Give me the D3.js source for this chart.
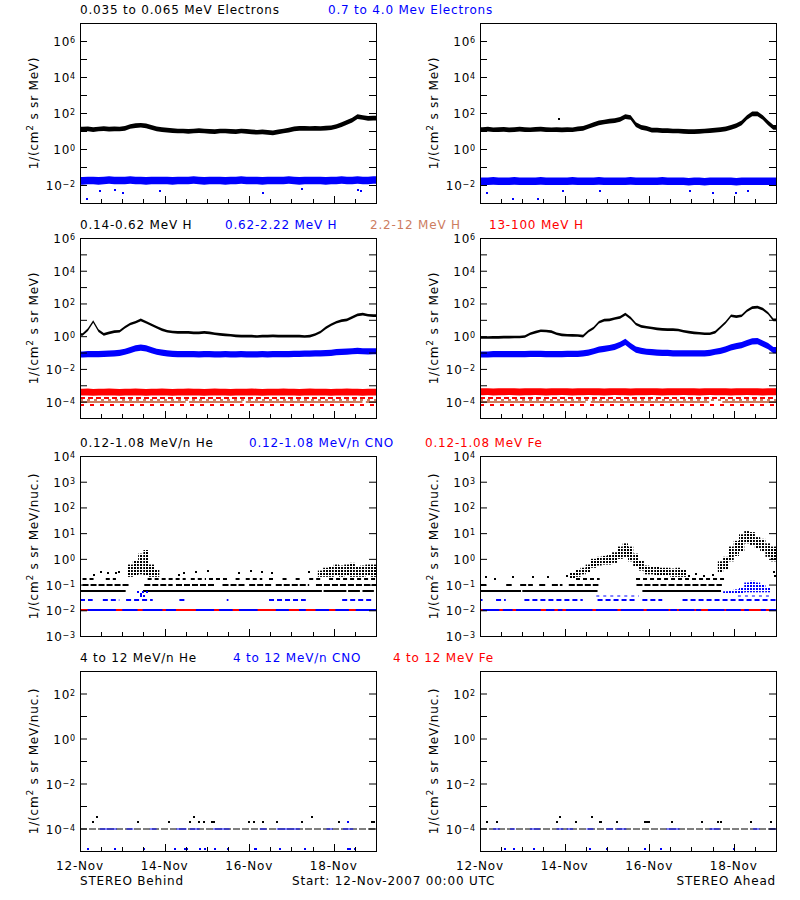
<!DOCTYPE html>
<html><head><meta charset="utf-8">
<script src="https://cdn.jsdelivr.net/npm/d3@7"></script>
<style>
body{margin:0;background:#fff;}
text{font-family:"DejaVu Sans",sans-serif;font-size:12px;letter-spacing:0.8px;}
</style></head><body>
<svg id="chart" width="800" height="900" xmlns="http://www.w3.org/2000/svg"></svg>
<script>
// ======================= DATA =======================
const startDate = "2007-11-12T00:00:00Z";
const endDate = "2007-11-19T00:00:00Z";
const binHours = 3;                       // series below are 3-hour bins (56 per week)
const dateTickDays = [0, 2, 4, 6];        // labelled ticks: 12-Nov, 14-Nov, 16-Nov, 18-Nov
const footerTexts = ["STEREO Behind", "Start: 12-Nov-2007 00:00 UTC", "STEREO Ahead"];

const titlesRow1 = ["0.035 to 0.065 MeV Electrons", "0.7 to 4.0 Mev Electrons"];
const titlesRow2 = ["0.14-0.62 MeV H", "0.62-2.22 MeV H", "2.2-12 MeV H", "13-100 MeV H"];
const titlesRow3 = ["0.12-1.08 MeV/n He", "0.12-1.08 MeV/n CNO", "0.12-1.08 MeV Fe"];
const titlesRow4 = ["4 to 12 MeV/n He", "4 to 12 MeV/n CNO", "4 to 12 MeV Fe"];
const yTitles = ["MeV)", "MeV)", "MeV/nuc.)", "MeV/nuc.)"];

const yDomainLo = [1e-3, 1e-5, 1e-3, 1e-5];
const yDomainHi = [1e7, 1e6, 1e4, 1e3];
const yLabelExpRow1 = [-2, 0, 2, 4, 6];
const yLabelExpRow2 = [-4, -2, 0, 2, 4, 6];
const yLabelExpRow3 = [-3, -2, -1, 0, 1, 2, 3, 4];
const yLabelExpRow4 = [-4, -2, 0, 2];

// --- Electrons (3h bins) ---
const electronLoBehind = [12.6,13.2,12.0,12.9,13.5,12.6,13.2,12.9,
 14.1,17.8,20.0,20.9,19.1,15.8,13.2,12.0,
 11.2,10.5,10.0,10.0,9.5,10.0,10.5,10.0,
 9.5,9.3,10.0,10.0,9.5,9.3,10.0,9.5,
 8.9,8.5,8.9,8.3,7.9,8.9,10.0,11.2,
 13.2,14.1,14.1,13.8,14.1,13.8,14.5,15.1,
 17.8,22.4,30.2,39.8,63.0,56.0,50.0,52.0];
const electronHiBehind = [0.017,0.018,0.018,0.017,0.018,0.019,0.018,0.018,
 0.018,0.019,0.018,0.018,0.017,0.018,0.018,0.018,
 0.018,0.017,0.018,0.018,0.018,0.019,0.018,0.017,
 0.018,0.018,0.018,0.017,0.018,0.018,0.019,0.018,
 0.018,0.018,0.017,0.018,0.018,0.018,0.018,0.019,
 0.018,0.017,0.018,0.018,0.018,0.018,0.017,0.018,
 0.018,0.019,0.018,0.018,0.019,0.018,0.018,0.019];
const electronHiBehindOutliers = [[0.17,0.0016],[0.47,0.0049],[0.83,0.0052],[1.02,0.0035],[1.89,0.0049],[4.33,0.0035],[5.24,0.006],[6.57,0.0052],[6.65,0.0045]];
const electronLoAhead = [12.0,12.6,11.7,12.0,12.3,11.5,12.0,12.6,
 12.0,11.7,12.3,12.6,12.0,11.7,12.0,11.5,
 12.0,11.7,13.2,14.1,17.8,22.4,28.2,31.6,
 35.5,38.0,44.7,63.0,56.0,22.4,15.8,14.1,
 11.2,11.2,10.5,10.5,10.0,10.0,9.5,9.3,
 9.3,9.5,10.0,10.5,11.2,12.0,13.2,15.8,
 20.0,28.2,56.0,89.0,89.0,56.0,28.2,15.8];
const electronLoAheadOutliers = [[1.87,46]];
const electronHiAhead = [0.016,0.016,0.017,0.016,0.016,0.016,0.017,0.016,
 0.016,0.016,0.016,0.017,0.016,0.016,0.016,0.016,
 0.016,0.017,0.016,0.016,0.016,0.016,0.017,0.016,
 0.016,0.016,0.016,0.016,0.017,0.016,0.016,0.016,
 0.016,0.016,0.017,0.016,0.016,0.016,0.016,0.015,
 0.016,0.016,0.015,0.016,0.016,0.016,0.016,0.016,
 0.015,0.016,0.016,0.016,0.016,0.016,0.016,0.016];
const electronHiAheadOutliers = [[0.17,0.0035],[0.79,0.0016],[1.38,0.0016],[1.97,0.0047],[2.83,0.0045],[4.96,0.0047],[5.51,0.0035],[6.06,0.0035],[6.34,0.0045]];

// --- Protons (3h bins) ---
const protonLoBehind = [1.26,2.5,7.9,2.2,1.3,1.6,1.9,2.0,
 3.5,5.6,7.1,10.0,7.1,5.0,3.5,2.5,
 2.0,1.8,1.7,1.7,1.7,1.6,1.6,1.7,
 1.6,1.4,1.3,1.2,1.15,1.05,1.0,1.0,
 1.0,0.95,1.0,1.0,1.05,1.0,1.0,1.0,
 1.0,1.0,0.95,1.0,1.26,1.8,3.2,5.0,
 7.1,8.9,10.0,14.0,20.0,22.4,19.0,18.0];
const protonMidBehind = [0.076,0.079,0.079,0.079,0.083,0.085,0.089,0.095,
 0.112,0.141,0.178,0.2,0.178,0.141,0.112,0.1,
 0.089,0.083,0.08,0.08,0.079,0.08,0.078,0.08,
 0.079,0.077,0.078,0.08,0.077,0.078,0.079,0.077,
 0.078,0.077,0.079,0.078,0.08,0.079,0.08,0.081,
 0.082,0.083,0.085,0.086,0.088,0.09,0.092,0.095,
 0.105,0.11,0.115,0.12,0.125,0.12,0.118,0.12];
const protonHiBehind = [0.00038,0.00039,0.00037,0.00038,0.00038,0.00039,0.00038,0.00037,
 0.00038,0.00038,0.00039,0.00038,0.00037,0.00038,0.00038,0.00039,
 0.00038,0.00037,0.00038,0.00038,0.00039,0.00038,0.00038,0.00037,
 0.00038,0.00039,0.00038,0.00038,0.00037,0.00038,0.00038,0.00038,
 0.00039,0.00038,0.00037,0.00038,0.00038,0.00038,0.00039,0.00038,
 0.00038,0.00037,0.00038,0.00039,0.00038,0.00038,0.00038,0.00037,
 0.00038,0.00038,0.00039,0.00038,0.00038,0.00037,0.00038,0.00038];
const protonLoAhead = [0.83,0.83,0.85,0.85,0.87,0.87,0.89,0.89,
 0.95,1.41,1.78,2.14,2.09,1.9,1.41,1.2,
 1.15,1.12,1.1,1.0,2.0,3.16,7.1,9.5,
 10.0,12.0,14.1,22.4,12.6,5.6,4.0,3.5,
 3.16,2.8,2.6,2.5,2.5,2.4,2.0,1.78,
 1.6,1.5,1.41,1.41,1.78,3.5,7.1,17.8,
 15.8,17.8,35.5,56.0,60.0,45.0,25.0,10.0];
const protonMidAhead = [0.076,0.076,0.079,0.079,0.079,0.079,0.079,0.079,
 0.079,0.083,0.083,0.083,0.079,0.079,0.079,0.079,
 0.083,0.083,0.083,0.089,0.1,0.12,0.15,0.17,
 0.19,0.22,0.3,0.45,0.25,0.15,0.126,0.112,
 0.105,0.1,0.095,0.095,0.089,0.089,0.089,0.089,
 0.089,0.089,0.089,0.095,0.112,0.126,0.158,0.21,
 0.25,0.28,0.38,0.48,0.5,0.355,0.25,0.141];
const protonHiAhead = [0.0004,0.00041,0.00039,0.0004,0.0004,0.00041,0.0004,0.00039,
 0.0004,0.0004,0.00041,0.0004,0.00039,0.0004,0.0004,0.00041,
 0.0004,0.00039,0.0004,0.0004,0.00041,0.0004,0.0004,0.00039,
 0.0004,0.00041,0.0004,0.0004,0.00039,0.0004,0.0004,0.0004,
 0.00041,0.0004,0.00039,0.0004,0.0004,0.0004,0.00041,0.0004,
 0.0004,0.00039,0.0004,0.00041,0.0004,0.0004,0.0004,0.00039,
 0.0004,0.0004,0.00041,0.0004,0.0004,0.00039,0.0004,0.0004];
// quantized count rows of the 2.2-12 MeV and 13-100 MeV channels
const protonHiRowLevels = [1.75e-4, 6e-5];
const protonMidHiRowLevel = 1.35e-4;
const protonMidHiLevel = 8.9e-5;
const protonMidHiBehindSegs = [[0,2.5],[2.58,3.84],[3.92,6.68],[6.76,7]];
const protonMidHiAheadSegs = [[0,2.5],[2.62,5.42],[5.73,7]];

// --- Low-energy heavy ions: quantized count levels ---
const heLevels = [0.058, 0.1, 0.165];
const heBehindL1 = [[0,1.08],[1.49,5.72],[5.76,6.3],[6.34,6.62],[6.68,6.95]];
const heBehindL2 = [[0.06,1.17],[1.52,2.19],[2.27,3.21],[3.37,3.92],[4.0,4.55],[4.63,5.42],[5.58,7]];
const heBehindL3 = [[0.06,0.38],[0.61,0.85],[1.6,2.5],[2.62,2.98],[3.05,3.52],[3.68,3.84],[3.92,4.31],[4.47,4.63],[4.79,4.94],[5.1,5.26],[5.42,5.73],[5.89,7]];
const heBehindPoints = [[0.34,0.24],[0.5,0.3],[0.66,0.27],[0.85,0.27],[0.93,0.3],[2.35,0.24],[2.47,0.27],[2.74,0.3],[3.02,0.33],[3.77,0.27],[4.04,0.33],[4.31,0.3],[4.55,0.27],[5.42,0.3]];
// cloud bins: [startDay, low, high]
const heBehindCloud = [[1.125,0.2,0.6],[1.25,0.22,0.9],[1.375,0.25,1.6],[1.5,0.22,2.2],[1.625,0.2,0.6],[1.75,0.2,0.4],
 [5.625,0.2,0.35],[5.75,0.2,0.45],[5.875,0.2,0.5],[6.0,0.22,0.6],[6.125,0.2,0.55],[6.25,0.22,0.6],[6.375,0.2,0.7],[6.5,0.2,0.5],[6.625,0.2,0.55],[6.75,0.22,0.6],[6.875,0.2,0.6]];
const heAheadL1 = [[0,0.97],[1.0,2.78],[3.84,5.7]];
const heAheadL2 = [[0,0.15],[0.62,0.75],[0.95,1.25],[1.4,1.55],[1.7,1.95],[2.1,2.8],[3.7,5.72]];
const heAheadL3 = [[2.27,2.83],[3.69,5.8]];
const heAheadPoints = [[0.14,0.2],[0.35,0.17],[0.77,0.2],[1.25,0.2],[1.6,0.19],[2.05,0.22],[4.95,0.22],[5.1,0.25],[5.3,0.22],[5.5,0.24],[6.95,0.3],[6.97,0.22]];
const heAheadCloud = [[2.125,0.18,0.3],[2.25,0.2,0.4],[2.375,0.25,0.45],[2.5,0.3,0.6],[2.625,0.45,1.0],[2.75,0.55,1.2],[2.875,0.6,1.3],[3.0,0.6,1.4],[3.125,0.7,1.8],[3.25,1.0,3.0],[3.375,1.2,4.0],[3.5,0.8,3.0],[3.625,0.5,1.6],[3.75,0.35,0.9],[3.875,0.25,0.55],[4.0,0.25,0.5],[4.125,0.22,0.5],[4.25,0.22,0.45],[4.375,0.22,0.45],[4.5,0.2,0.42],[4.625,0.2,0.45],[4.75,0.2,0.4],
 [5.625,0.3,0.8],[5.75,0.4,1.2],[5.875,0.8,3],[6.0,1.3,5],[6.125,2,9],[6.25,4,12],[6.375,3.5,11],[6.5,2.5,7],[6.625,2,6],[6.75,1.2,4],[6.875,0.8,3]];

const cnoLevels = [0.026, 0.037];
const floorLevel = 0.0105;
const cnoBehindL1 = [[0,0.3],[0.54,0.93],[1.09,1.72],[2.35,2.5],[3.47,3.51],[4.47,5.34],[6.2,6.91]];
const cnoBehindPoints = [[1.38,0.05],[1.45,0.042],[1.5,0.05],[1.58,0.05],[1.45,0.036],[1.52,0.036]];
const cnoAheadL1 = [[0,0.06],[0.38,0.61],[1.05,2.43],[2.78,3.69],[3.84,4.31],[4.79,7]];
const cnoAheadL2 = [[2.75,3.76],[6.1,6.9]];
const cnoAheadCloud = [[5.75,0.045,0.055],[5.875,0.045,0.06],[6.0,0.045,0.065],[6.125,0.045,0.08],[6.25,0.05,0.12],[6.375,0.05,0.14],[6.5,0.05,0.12],[6.625,0.05,0.1],[6.75,0.05,0.08]];
const feBehindFloor = [[0,0.18],[0.85,1.0],[1.36,1.48],[1.95,2.03],[2.27,2.74],[3.17,3.29],[3.61,3.76],[4.2,4.63],[4.94,5.18],[5.34,5.57],[5.89,6.04],[6.36,6.52]];
const feAheadFloor = [[0,0.06],[0.46,0.54],[0.77,0.85],[1.44,1.56],[1.76,1.84],[1.95,2.03],[2.66,2.74],[3.25,3.33],[3.87,3.94],[4.46,4.5],[4.66,4.7],[5.07,5.11],[5.23,5.39],[5.78,5.82],[6.17,6.25],[6.36,6.64],[6.76,6.84]];

// --- 4-12 MeV/n ions ---
const hiFloorLevel = 1e-4;
const he4BehindPoints = [[0.3,2e-4],[0.4,3.1e-4],[1.36,2e-4],[2.1,2e-4],[2.6,2e-4],[2.7,3.1e-4],[2.81,2e-4],[2.93,2e-4],[3.13,2e-4],[3.17,2e-4],[4.0,2e-4],[4.11,2e-4],[4.32,2e-4],[4.65,2e-4],[5.24,2e-4],[5.49,3.1e-4],[6.13,2e-4],[6.9,2e-4],[6.95,2e-4]];
const cno4BehindHigh = [[6.34,2e-4]];
const cno4BehindLow = [[0.2,1.2e-5],[0.83,1.2e-5],[1.51,1.2e-5],[2.24,1.2e-5],[2.48,1.2e-5],[2.52,1.2e-5],[2.83,1.2e-5],[2.95,1.2e-5],[3.19,1.2e-5],[3.5,1.2e-5],[4.13,1.2e-5],[4.17,1.2e-5],[4.72,1.2e-5],[5.32,1.2e-5],[6.34,1.2e-5],[6.38,1.2e-5],[6.5,1.2e-5]];
const cno4BehindFloor = [[0.47,0.87],[1.1,1.26],[1.65,1.81],[2.28,2.52],[2.6,2.83],[3.15,3.54],[4.25,4.41],[4.65,5.2],[5.83,5.98],[6.22,6.46]];
const he4AheadPoints = [[0.17,2e-4],[0.41,2e-4],[1.81,2e-4],[1.9,3.1e-4],[2.28,2e-4],[2.64,3.1e-4],[2.83,2e-4],[2.87,2e-4],[3.23,2e-4],[3.9,2e-4],[3.95,2e-4],[4.0,2e-4],[4.55,2e-4],[5.25,2e-4],[5.63,2e-4],[5.7,2e-4],[6.4,2e-4],[6.87,2e-4]];
const cno4AheadLow = [[0.59,1.2e-5],[0.8,1.2e-5],[1.28,1.2e-5],[2.61,1.2e-5],[3.0,1.2e-5],[3.9,1.2e-5],[4.29,1.2e-5],[6.01,1.2e-5]];
const cno4AheadFloor = [[0.31,0.47],[0.71,0.83],[1.18,1.42],[1.81,1.97],[2.05,2.2],[2.52,2.68],[2.99,3.15],[3.23,3.46],[4.41,4.72],[5.43,5.67],[6.46,6.61],[6.85,7]];

const spreadElectronLo = 0.13, spreadElectronHi = 0.21, spreadProtonLo = 0.08, spreadProtonMid = 0.19, spreadProtonHi = 0.21;

// ======================= LAYOUT / STYLE =======================
const PX = [80, 480], PY = [23, 238, 456, 671], PW = 296, PH = 180;
const BLACK = "#000", BLUE = "#0000ff", RED = "#ff0000", SALMON = "rgb(205,125,95)";
const titleX = [[80, 328], [80, 225, 370, 489], [80, 249, 425], [80, 233, 393]];
const titleColors = [[BLACK, BLUE], [BLACK, BLUE, SALMON, RED], [BLACK, BLUE, RED], [BLACK, BLUE, RED]];
const titles = [titlesRow1, titlesRow2, titlesRow3, titlesRow4];
const yLabelExps = [yLabelExpRow1, yLabelExpRow2, yLabelExpRow3, yLabelExpRow4];

const svg = d3.select("#chart");
svg.append("rect").attr("width", 800).attr("height", 900).attr("fill", "#fff");
const defs = svg.append("defs");
function makePattern(id, color) {
  const p = defs.append("pattern").attr("id", id).attr("width", 3).attr("height", 3).attr("patternUnits", "userSpaceOnUse");
  p.append("rect").attr("width", 2).attr("height", 2).attr("fill", color);
}
makePattern("dotK", BLACK); makePattern("dotB", BLUE);

const t0 = new Date(startDate), t1 = new Date(endDate);
const DAYMS = 86400000, BINMS = binHours * 3600000;
const dayT = d => new Date(+t0 + d * DAYMS);
const binT = i => new Date(+t0 + (i + 0.5) * BINMS);

function makePanel(col, row) {
  const g = svg.append("g").attr("transform", `translate(${PX[col]},${PY[row]})`);
  const x = d3.scaleUtc().domain([t0, t1]).range([0, PW]);
  const y = d3.scaleLog().domain([yDomainLo[row], yDomainHi[row]]).range([PH, 0]);
  const id = `clip${col}${row}`;
  defs.append("clipPath").attr("id", id).append("rect").attr("width", PW).attr("height", PH);
  const data = g.append("g").attr("clip-path", `url(#${id})`);
  return { g, data, x, y, col, row };
}

function band(p, mids, spread, color) {
  const f = Math.pow(10, spread);
  const pts = mids.map((v, i) => [binT(i), v]);
  pts.unshift([t0, mids[0]]); pts.push([t1, mids[mids.length - 1]]);
  const area = d3.area().x(d => p.x(d[0])).y0(d => p.y(d[1] / f)).y1(d => p.y(d[1] * f));
  p.data.append("path").attr("d", area(pts)).attr("fill", color);
}
function cloud(p, bins, fill) {
  p.data.selectAll(null).data(bins).join("rect")
    .attr("x", d => p.x(dayT(d[0]))).attr("width", d => p.x(dayT(d[0] + binHours / 24)) - p.x(dayT(d[0])))
    .attr("y", d => p.y(d[2])).attr("height", d => p.y(d[1]) - p.y(d[2])).attr("fill", fill);
}
function points(p, pts, color) {
  p.data.selectAll(null).data(pts).join("rect")
    .attr("x", d => Math.round(p.x(dayT(d[0]))) - 1).attr("y", d => Math.round(p.y(d[1])) - 1)
    .attr("width", 2).attr("height", 2).attr("fill", color);
}
function level(p, value, segs, color, width, dash) {
  const yy = Math.round(p.y(value));
  p.data.selectAll(null).data(segs).join("line")
    .attr("x1", d => p.x(dayT(d[0]))).attr("x2", d => p.x(dayT(d[1])))
    .attr("y1", yy).attr("y2", yy)
    .attr("stroke", color).attr("stroke-width", width)
    .attr("stroke-dasharray", dash || null);
}

function frame(p) {
  const g = p.g;
  const hours12 = d3.utcHour.every(12).range(t0, t1).slice(1);
  const majorMs = dateTickDays.map(d => +dayT(d));
  hours12.forEach(t => {
    const xx = Math.round(p.x(t)) + 0.5;
    const len = majorMs.includes(+t) ? 7 : 4;
    g.append("line").attr("x1", xx).attr("x2", xx).attr("y1", PH).attr("y2", PH - len).attr("stroke", BLACK);
  });
  const lo = Math.round(Math.log10(yDomainLo[p.row])), hi = Math.round(Math.log10(yDomainHi[p.row]));
  const decades = d3.range(lo + 1, hi).map(e => Math.pow(10, e));
  const yl = d3.axisLeft(p.y).tickValues(decades).tickSize(-7).tickFormat("");
  const yr = d3.axisRight(p.y).tickValues(decades).tickSize(-7).tickFormat("");
  g.append("g").call(yl).call(s => s.select(".domain").remove()).selectAll("line").attr("stroke", BLACK);
  g.append("g").attr("transform", `translate(${PW},0)`).call(yr).call(s => s.select(".domain").remove()).selectAll("line").attr("stroke", BLACK);
  g.append("rect").attr("x", 0.5).attr("y", 0.5).attr("width", PW).attr("height", PH).attr("fill", "none").attr("stroke", BLACK);
  // y labels
  yLabelExps[p.row].forEach(e => {
    const t = g.append("text").attr("x", -4).attr("y", Math.round(p.y(Math.pow(10, e))) + 5).attr("text-anchor", "end");
    t.append("tspan").text("10");
    t.append("tspan").attr("dy", -3.5).style("font-size", "8px").text(e < 0 ? "\u2212" + (-e) : String(e));
  });
  // y title
  const yt = svg.append("text").attr("transform", `translate(${PX[p.col] - 42},${PY[p.row] + PH / 2}) rotate(-90)`).attr("text-anchor", "middle");
  yt.append("tspan").text("1/(cm");
  yt.append("tspan").attr("dy", -5).style("font-size", "9px").text("2");
  yt.append("tspan").attr("dy", 5).text(" s sr " + yTitles[p.row]);
  // x labels on bottom row
  if (p.row === 3) {
    dateTickDays.forEach(d => {
      g.append("text").attr("x", p.x(dayT(d))).attr("y", PH + 19).attr("text-anchor", "middle").text(d3.utcFormat("%d-%b")(dayT(d)));
    });
  }
}

// ---- titles ----
titles.forEach((row, r) => row.forEach((s, k) => {
  svg.append("text").attr("x", titleX[r][k]).attr("y", PY[r] - 9).attr("fill", titleColors[r][k]).text(s);
}));

// ---- Row 1: electrons ----
let p = makePanel(0, 0);
band(p, electronLoBehind, spreadElectronLo, BLACK);
band(p, electronHiBehind, spreadElectronHi, BLUE);
points(p, electronHiBehindOutliers, BLUE);
frame(p);
p = makePanel(1, 0);
band(p, electronLoAhead, spreadElectronLo, BLACK);
points(p, electronLoAheadOutliers, BLACK);
band(p, electronHiAhead, spreadElectronHi, BLUE);
points(p, electronHiAheadOutliers, BLUE);
frame(p);

// ---- Row 2: protons ----
[[0, protonLoBehind, protonMidBehind, protonHiBehind, protonMidHiBehindSegs],
 [1, protonLoAhead, protonMidAhead, protonHiAhead, protonMidHiAheadSegs]].forEach(([c, lo, mid, hiS, segs]) => {
  const q = makePanel(c, 1);
  band(q, hiS, spreadProtonHi, RED);
  level(q, protonHiRowLevels[0], [[0, 7]], RED, 2, "5,3");
  level(q, protonMidHiRowLevel, [[0, 7]], SALMON, 2, "3,4");
  level(q, protonMidHiLevel, segs, SALMON, 2, null);
  level(q, protonHiRowLevels[1], [[0, 7]], RED, 2, "4,6");
  band(q, mid, spreadProtonMid, BLUE);
  band(q, lo, spreadProtonLo, BLACK);
  frame(q);
});

// ---- Row 3: He / CNO / Fe 0.12-1.08 ----
p = makePanel(0, 2);
level(p, heLevels[0], heBehindL1, BLACK, 2, null);
level(p, heLevels[1], heBehindL2, BLACK, 2, "6,2");
level(p, heLevels[2], heBehindL3, BLACK, 2, "4,3");
cloud(p, heBehindCloud, "url(#dotK)");
points(p, heBehindPoints, BLACK);
level(p, cnoLevels[0], cnoBehindL1, BLUE, 2, "5,3");
points(p, cnoBehindPoints, BLUE);
level(p, floorLevel, [[0, 7]], BLUE, 2, null);
level(p, floorLevel, feBehindFloor, RED, 2, null);
frame(p);
p = makePanel(1, 2);
level(p, heLevels[0], heAheadL1, BLACK, 2, null);
level(p, heLevels[1], heAheadL2, BLACK, 2, "6,2");
level(p, heLevels[2], heAheadL3, BLACK, 2, "4,3");
cloud(p, heAheadCloud, "url(#dotK)");
points(p, heAheadPoints, BLACK);
level(p, cnoLevels[0], cnoAheadL1, BLUE, 2, "5,3");
level(p, cnoLevels[1], cnoAheadL2, BLUE, 1, "3,4");
cloud(p, cnoAheadCloud, "url(#dotB)");
level(p, floorLevel, [[0, 7]], BLUE, 2, null);
level(p, floorLevel, feAheadFloor, RED, 2, null);
frame(p);

// ---- Row 4: 4-12 MeV/n ----
p = makePanel(0, 3);
level(p, hiFloorLevel, [[0, 7]], BLACK, 1, "7,2");
level(p, hiFloorLevel, cno4BehindFloor, BLUE, 1, null);
points(p, he4BehindPoints, BLACK);
points(p, cno4BehindHigh, BLUE);
points(p, cno4BehindLow, BLUE);
frame(p);
p = makePanel(1, 3);
level(p, hiFloorLevel, [[0, 7]], BLACK, 1, "7,2");
level(p, hiFloorLevel, cno4AheadFloor, BLUE, 1, null);
points(p, he4AheadPoints, BLACK);
points(p, cno4AheadLow, BLUE);
frame(p);

// ---- footer ----
svg.append("text").attr("x", 80).attr("y", 885).text(footerTexts[0]);
svg.append("text").attr("x", 292).attr("y", 885).text(footerTexts[1]);
svg.append("text").attr("x", 776).attr("y", 885).attr("text-anchor", "end").text(footerTexts[2]);
</script>
</body></html>
